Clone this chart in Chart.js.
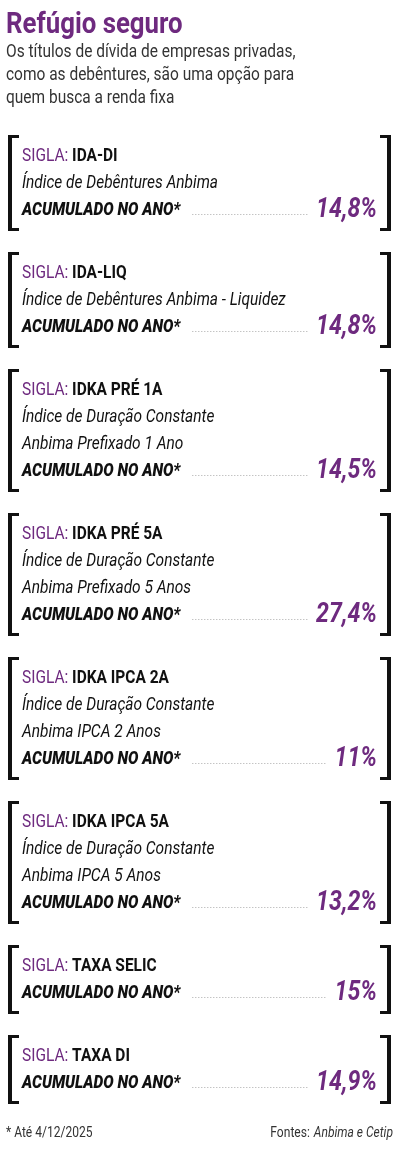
<!DOCTYPE html>
<html><head><meta charset="utf-8">
<script src="https://cdn.jsdelivr.net/npm/chart.js@4"></script>
<style>html,body{margin:0;background:#fff}#wrap{width:400px;height:1150px}</style>
</head><body>
<div id="wrap"><canvas id="c"></canvas></div>
<script>
const title = 'Refúgio seguro';
const subtitle = ['Os títulos de dívida de empresas privadas,', 'como as debêntures, são uma opção para', 'quem busca a renda fixa'];
const siglas = ['IDA-DI', 'IDA-LIQ', 'IDKA PRÉ 1A', 'IDKA PRÉ 5A', 'IDKA IPCA 2A', 'IDKA IPCA 5A', 'TAXA SELIC', 'TAXA DI'];
const names = [
    ['Índice de Debêntures Anbima'],
    ['Índice de Debêntures Anbima - Liquidez'],
    ['Índice de Duração Constante', 'Anbima Prefixado 1 Ano'],
    ['Índice de Duração Constante', 'Anbima Prefixado 5 Anos'],
    ['Índice de Duração Constante', 'Anbima IPCA 2 Anos'],
    ['Índice de Duração Constante', 'Anbima IPCA 5 Anos'],
    [],
    []
];
const values = ['14,8%', '14,8%', '14,5%', '27,4%', '11%', '13,2%', '15%', '14,9%'];

const PURPLE = '#6e2a7f';
const FONT = '"Liberation Sans Narrow", "Roboto", sans-serif';

function narrowText(ctx, txt, x, y, align) {
    // condense text horizontally
    const k = 0.86;
    ctx.save();
    ctx.translate(x, y);
    ctx.scale(k, 1);
    ctx.textAlign = align || 'left';
    ctx.fillText(txt, 0, 0);
    ctx.restore();
    return ctx.measureText(txt).width * k;
}

const boxPlugin = {
    id: 'boxes',
    afterDraw(chart) {
        const ctx = chart.ctx;
        ctx.save();
        ctx.textBaseline = 'alphabetic';
        ctx.fillStyle = PURPLE;
        ctx.font = 'bold 30px ' + FONT;
        narrowText(ctx, title, 6, 33);
        ctx.fillStyle = '#333';
        ctx.font = '18px ' + FONT;
        subtitle.forEach((s, i) => narrowText(ctx, s, 6, 57 + i * 23));

        let top = 135;
        const step = 27;
        siglas.forEach((sig, i) => {
            const lines = 2 + names[i].length;
            const h = 26 + (lines - 1) * step + 16;
            // brackets
            ctx.fillStyle = '#111';
            ctx.fillRect(8, top, 4, h);
            ctx.fillRect(8, top, 11, 3);
            ctx.fillRect(8, top + h - 3, 11, 3);
            ctx.fillRect(387, top, 4, h);
            ctx.fillRect(380, top, 11, 3);
            ctx.fillRect(380, top + h - 3, 11, 3);
            let y = top + 26;
            ctx.fillStyle = PURPLE;
            ctx.font = '18px ' + FONT;
            const w = narrowText(ctx, 'SIGLA: ', 22, y);
            ctx.fillStyle = '#111';
            ctx.font = 'bold 18px ' + FONT;
            narrowText(ctx, sig, 22 + w, y);
            ctx.font = 'italic 18px ' + FONT;
            names[i].forEach(n => { y += step; narrowText(ctx, n, 22, y); });
            y += step;
            ctx.font = 'italic 900 18px ' + FONT;
            const lw = narrowText(ctx, 'ACUMULADO NO ANO*', 22, y);
            ctx.fillStyle = PURPLE;
            ctx.font = 'italic bold 27px ' + FONT;
            const vw = narrowText(ctx, values[i], 377, y + 2, 'right');
            ctx.fillStyle = '#aaa';
            for (let x = 22 + lw + 12; x < 377 - vw - 8; x += 3) ctx.fillRect(x, y - 1, 1, 1);
            top += h + 21;
        });
        ctx.fillStyle = '#333';
        ctx.font = '14px ' + FONT;
        narrowText(ctx, '* Até 4/12/2025', 6, 1137);
        ctx.font = 'italic 14px ' + FONT;
        const aw = ctx.measureText('Anbima e Cetip').width * 0.86;
        narrowText(ctx, 'Anbima e Cetip', 393, 1137, 'right');
        ctx.font = '14px ' + FONT;
        narrowText(ctx, 'Fontes: ', 393 - aw - 1, 1137, 'right');
        ctx.restore();
    }
};

new Chart(document.getElementById('c'), {
    type: 'bar',
    data: { labels: siglas, datasets: [{ data: [], backgroundColor: 'transparent' }] },
    options: {
        responsive: true,
        maintainAspectRatio: false,
        animation: false,
        plugins: { legend: { display: false }, tooltip: { enabled: false } },
        scales: { x: { display: false }, y: { display: false } }
    },
    plugins: [boxPlugin]
});
</script>
</body></html>
